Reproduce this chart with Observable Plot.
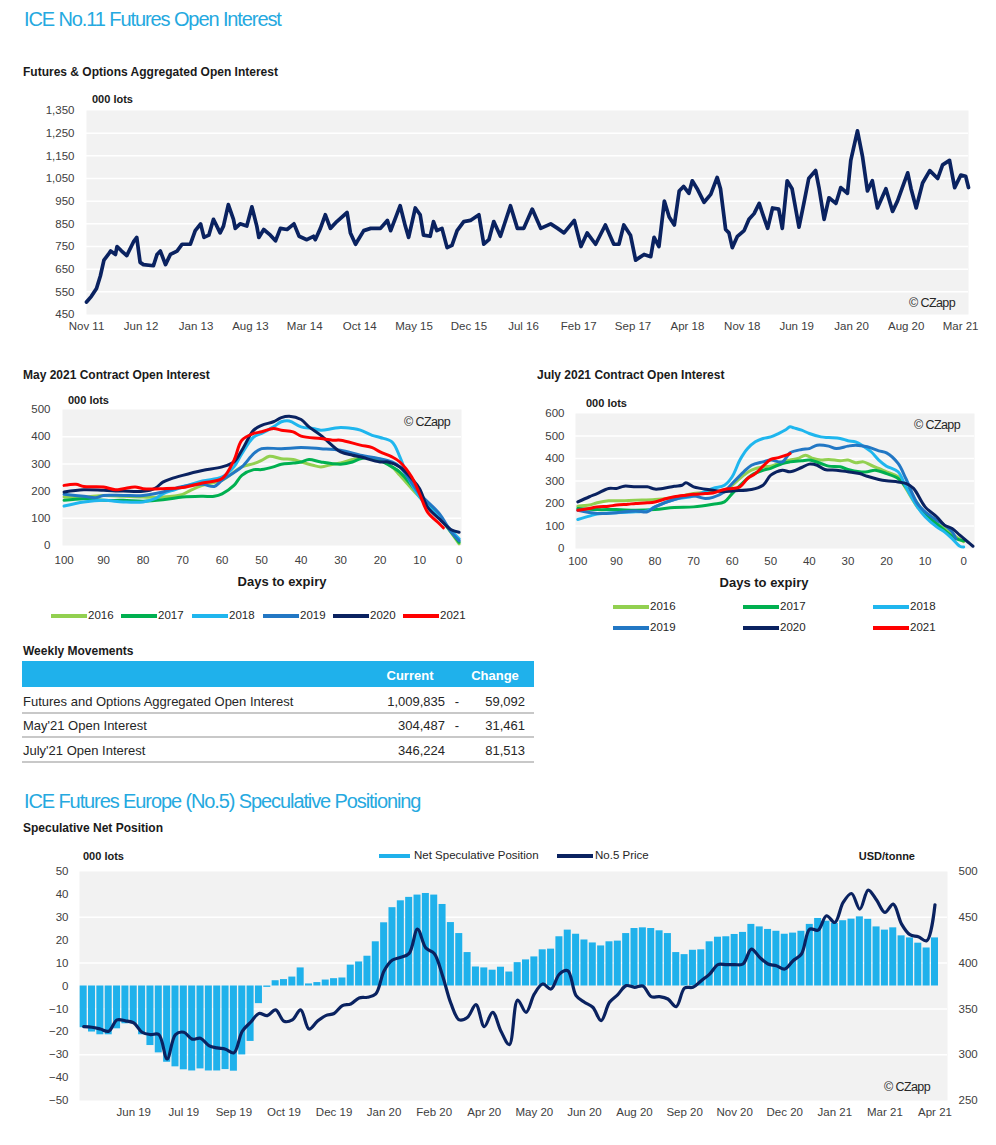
<!DOCTYPE html>
<html><head><meta charset="utf-8">
<script src="https://cdn.jsdelivr.net/npm/d3@7"></script>
<script src="https://cdn.jsdelivr.net/npm/@observablehq/plot@0.6"></script>
<style>
body{margin:0;background:#fff;font-family:"Liberation Sans",Arial,sans-serif;}
#root{position:relative;width:996px;height:1145px;overflow:hidden;background:#fff;}
.t{position:absolute;white-space:nowrap;line-height:1;}
svg{position:absolute;overflow:visible;}
</style></head>
<body><div id="root"></div>
<script>
// ---------- DATA ----------
const oiDates = ["2011-11-01","2011-11-20","2011-12-10","2011-12-25","2012-01-08","2012-01-25","2012-02-03","2012-02-22","2012-02-28","2012-03-17","2012-04-06","2012-05-02","2012-05-15","2012-05-28","2012-06-10","2012-07-19","2012-08-02","2012-08-15","2012-09-04","2012-09-23","2012-10-19","2012-11-08","2012-12-10","2012-12-29","2013-01-19","2013-02-01","2013-02-20","2013-03-10","2013-04-05","2013-04-18","2013-05-07","2013-05-27","2013-06-03","2013-06-22","2013-07-18","2013-08-07","2013-08-26","2013-09-03","2013-09-22","2013-10-18","2013-11-07","2013-11-26","2013-12-22","2014-01-18","2014-02-07","2014-03-09","2014-04-04","2014-04-11","2014-05-01","2014-05-20","2014-06-09","2014-07-04","2014-08-13","2014-08-26","2014-09-15","2014-10-17","2014-11-13","2014-12-21","2015-01-17","2015-01-30","2015-03-08","2015-03-28","2015-04-10","2015-05-06","2015-05-25","2015-06-07","2015-07-03","2015-07-16","2015-07-29","2015-08-18","2015-09-07","2015-09-26","2015-10-16","2015-11-11","2015-12-07","2016-01-09","2016-01-28","2016-02-17","2016-03-07","2016-04-02","2016-05-11","2016-06-07","2016-07-02","2016-08-04","2016-09-06","2016-10-15","2016-11-11","2016-12-06","2017-01-15","2017-02-10","2017-03-06","2017-04-08","2017-05-16","2017-06-18","2017-07-08","2017-07-27","2017-08-22","2017-09-11","2017-10-14","2017-11-09","2017-11-22","2017-12-11","2018-01-01","2018-01-20","2018-02-09","2018-02-28","2018-03-17","2018-04-07","2018-04-20","2018-05-09","2018-06-05","2018-07-01","2018-07-26","2018-08-08","2018-08-28","2018-09-10","2018-09-23","2018-10-13","2018-11-08","2018-11-27","2018-12-17","2019-01-06","2019-01-19","2019-02-08","2019-02-27","2019-03-23","2019-04-06","2019-04-25","2019-05-14","2019-06-10","2019-06-29","2019-07-18","2019-08-14","2019-08-27","2019-09-16","2019-10-05","2019-11-01","2019-11-20","2019-12-16","2019-12-29","2020-01-24","2020-02-13","2020-03-03","2020-03-22","2020-04-11","2020-05-14","2020-06-09","2020-06-28","2020-07-17","2020-08-07","2020-08-20","2020-09-09","2020-10-04","2020-11-01","2020-12-02","2020-12-21","2021-01-17","2021-02-06","2021-03-02","2021-03-21","2021-04-01"];
const oiValues = [505,530,565,620,690,715,730,715,750,730,710,770,790,680,670,665,715,730,670,715,730,760,760,820,850,790,800,870,810,840,935,870,830,850,840,925,840,790,825,800,775,830,825,850,795,780,795,780,830,890,830,860,900,810,760,820,830,830,865,820,930,840,790,920,890,800,795,860,820,830,745,755,820,860,865,890,760,780,860,795,930,830,830,915,830,850,830,810,865,750,810,760,845,760,760,845,800,690,715,705,790,750,950,880,845,995,1015,985,1040,1005,945,980,1055,1005,825,810,745,795,820,870,895,940,895,830,920,915,830,1040,1005,835,940,1050,1085,1010,870,965,940,1010,985,1130,1260,1145,995,1040,920,1005,905,950,1010,1075,1005,920,1030,1085,1050,1110,1130,1010,1065,1060,1010];
const oiTickDates = ["2011-11-01","2012-06-01","2013-01-01","2013-08-01","2014-03-01","2014-10-01","2015-05-01","2015-12-01","2016-07-01","2017-02-01","2017-09-01","2018-04-01","2018-11-01","2019-06-01","2020-01-01","2020-08-01","2021-03-01"];
const oiTickLabels = ["Nov 11","Jun 12","Jan 13","Aug 13","Mar 14","Oct 14","May 15","Dec 15","Jul 16","Feb 17","Sep 17","Apr 18","Nov 18","Jun 19","Jan 20","Aug 20","Mar 21"];

const years = ["2016","2017","2018","2019","2020","2021"];
const yearColors = ["#92d050","#00b050","#1fb6ee","#2277c4","#0a2260","#ff0000"];

// May 2021 contract: [days to expiry, 000 lots]
const may2016 = [[100,178],[95,178],[90,184],[85,181],[80,178],[75,178],[70,188],[68,203],[65,221],[60,240],[55,289],[52,301],[50,313],[48,328],[45,319],[42,316],[40,307],[37,295],[35,289],[32,299],[30,303],[27,316],[25,323],[22,319],[20,313],[17,289],[15,258],[12,209],[10,178],[5,104],[0,6]];
const may2017 = [[100,166],[95,172],[90,166],[85,166],[80,163],[75,168],[70,178],[65,181],[62,181],[60,190],[57,221],[55,258],[52,279],[50,279],[47,289],[45,299],[42,303],[40,307],[38,316],[35,307],[30,299],[27,307],[25,319],[22,323],[20,313],[17,289],[15,270],[10,184],[5,104],[0,12]];
const may2018 = [[100,145],[95,160],[90,166],[85,160],[80,160],[77,172],[75,190],[72,205],[70,215],[65,237],[60,252],[57,289],[55,338],[52,399],[50,412],[47,436],[45,455],[43,458],[40,436],[37,430],[35,424],[32,430],[30,434],[27,430],[25,424],[22,405],[20,397],[17,381],[15,326],[13,252],[10,178],[5,104],[2,55],[0,25]];
const may2019 = [[100,188],[95,181],[92,176],[90,184],[85,184],[80,184],[75,197],[70,217],[65,225],[62,217],[60,240],[55,289],[52,338],[50,356],[45,356],[40,360],[35,356],[30,350],[25,332],[20,319],[17,307],[15,289],[10,190],[5,117],[2,49],[0,18]];
const may2020 = [[100,197],[95,205],[90,203],[85,200],[80,199],[77,210],[75,233],[73,245],[70,258],[65,276],[60,289],[57,307],[55,350],[52,424],[50,442],[47,455],[45,470],[43,475],[40,463],[38,436],[35,405],[30,344],[27,332],[25,326],[20,307],[18,307],[15,289],[12,246],[10,209],[8,141],[5,98],[2,58],[0,49]];
const may2021 = [[100,221],[97,225],[95,217],[90,215],[87,205],[85,209],[82,215],[80,209],[75,209],[70,213],[65,230],[60,246],[57,313],[55,387],[52,412],[50,418],[47,430],[45,424],[42,418],[40,402],[35,393],[32,387],[30,387],[25,369],[22,360],[20,344],[17,326],[15,307],[12,252],[10,190],[8,123],[5,80],[4,65]];

// July 2021 contract
const jul2016 = [[100,188],[97,193],[95,203],[92,212],[90,212],[85,215],[80,218],[75,227],[70,244],[65,252],[62,259],[60,281],[57,326],[55,348],[52,363],[50,366],[47,385],[45,393],[43,400],[41,415],[39,400],[37,393],[35,396],[32,390],[30,393],[28,381],[26,385],[24,370],[22,356],[20,341],[17,319],[15,267],[12,185],[10,148],[5,89],[2,52],[0,30]];
const jul2017 = [[100,178],[95,173],[90,173],[85,170],[80,173],[75,182],[70,185],[65,197],[62,207],[60,244],[57,296],[55,326],[52,348],[50,356],[47,378],[45,385],[42,390],[40,393],[37,378],[35,366],[32,363],[30,351],[27,341],[25,341],[23,348],[20,333],[17,311],[15,274],[12,200],[10,156],[5,81],[2,44],[0,34]];
const jul2018 = [[100,129],[97,144],[95,153],[90,159],[85,163],[82,167],[80,185],[75,218],[70,233],[65,267],[62,281],[60,319],[58,393],[56,444],[54,474],[52,489],[50,496],[48,511],[46,529],[45,541],[44,536],[42,526],[40,511],[37,496],[35,493],[32,489],[30,479],[28,474],[26,455],[24,430],[22,393],[20,366],[17,341],[15,274],[12,185],[10,141],[7,96],[5,74],[3,44],[1,10],[0,7]];
const jul2019 = [[100,170],[95,156],[90,159],[85,167],[82,163],[80,185],[75,218],[70,233],[67,222],[65,227],[62,252],[60,289],[57,341],[55,370],[52,385],[50,393],[47,385],[45,425],[42,440],[40,444],[38,459],[35,455],[33,444],[30,455],[28,459],[25,452],[22,434],[20,425],[17,378],[15,311],[12,200],[10,163],[7,126],[5,104],[3,74],[2,44]];
const jul2020 = [[100,207],[97,230],[95,244],[92,267],[90,267],[88,277],[85,274],[82,274],[80,264],[78,267],[75,277],[73,281],[72,292],[70,274],[65,259],[62,252],[60,256],[55,262],[52,281],[50,326],[47,348],[45,341],[42,360],[40,375],[38,370],[36,351],[33,348],[30,341],[27,333],[25,321],[22,307],[20,301],[17,296],[15,289],[13,267],[10,185],[7,141],[5,104],[3,89],[1,59],[-1,30],[-2.4,10]];
const jul2021 = [[100,170],[97,178],[95,185],[92,188],[90,193],[87,197],[85,200],[82,203],[80,207],[77,222],[75,230],[72,237],[70,241],[67,244],[65,247],[62,262],[60,267],[58,274],[56,311],[54,333],[52,366],[50,396],[48,404],[46,415],[45,422]];

// Weekly movements table
const tableRows = ["Futures and Options Aggregated Open Interest","May'21 Open Interest","July'21 Open Interest"];
const tableCurrent = [1009835, 304487, 346224];
const tableChange = [-59092, -31461, 81513];

// Speculative net position (000 lots), weekly
const netSpec = [-18.2,-20.1,-21.3,-21.3,-18.7,-16.5,-16.5,-21.3,-26,-29.2,-33.3,-35.3,-36.6,-37.1,-36.2,-37.1,-37.1,-36.5,-37.2,-30.1,-24.2,-7.7,-0.6,2.3,2.8,3.9,7.9,0.9,1.5,2.6,3.2,3.5,9.1,10.5,13,19.3,27.6,34.2,37.2,38.7,39.7,40.4,39.7,35.6,27.7,22.9,14.6,8.3,7.9,6.9,8.2,6.1,10.2,11.4,12.7,15.8,16.1,21.5,24.4,22.6,20.1,18.8,17.5,19.3,19.6,22.9,25.1,25.4,25.1,24.1,22.9,14.6,13.7,15.6,15.8,19.3,21.3,21.5,22.5,23.4,26.9,25.8,24.7,23.9,22.6,23.1,23.9,26.9,29.5,28.3,27.3,28.5,29.2,30.2,29.1,25.8,24.4,25.4,21.9,21,18.7,16.6,21];
// No.5 price (USD/tonne), weekly
const no5Price = [330.7,330,328,325.6,338,337,334.7,324.5,322,322,295.4,322,324.5,317,318,310,307.4,306,302,325.6,335.4,345,342.7,349,336.5,338,349,328,336.5,342.7,345,353.6,355.4,362,362.7,366.3,391.7,403.4,406.3,410.6,437,416.4,410.6,386.3,356,338,340.9,354.7,330.7,346.3,325.6,311,359.7,346.3,366.3,377.2,371.7,388,391.7,364.5,357.2,351.8,337.2,357.2,365.6,375.4,373.6,375,363.4,363.4,360.8,352.5,372.8,373.6,380.8,388,398.3,398.3,398.3,399,415.3,406.3,399,397.2,393.5,402.6,409.9,437.1,436,451.7,444.4,466.2,476,459,479.7,468.8,455.3,464.4,442.6,431,428.8,424.4,463.7];
const specTickIndex = [6,12,18,24,30,36,42,48,54,60,66,72,78,84,90,96,102];
const specTickLabels = ["Jun 19","Jul 19","Sep 19","Oct 19","Dec 19","Jan 20","Feb 20","Apr 20","May 20","Jun 20","Aug 20","Sep 20","Nov 20","Dec 20","Jan 21","Mar 21","Apr 21"];

// ---------- HELPERS ----------
const root = document.getElementById("root");
const FONT = "'Liberation Sans', Arial, sans-serif";
const BLUE_T = "#25a9e0";
const NAVY = "#0a2260";
const GRAY_BG = "#f2f2f2";
function T(x, y, s, st = {}, anchor = "start") {
  const d = document.createElement("div");
  d.className = "t";
  d.textContent = s;
  Object.assign(d.style, {fontSize: "12px", color: "#262626"}, st);
  d.style.left = x + "px"; d.style.top = y + "px";
  const tx = anchor === "end" ? "-100%" : anchor === "middle" ? "-50%" : "0";
  d.style.transform = `translate(${tx},-50%)`;
  root.appendChild(d);
  return d;
}
function box(x, y, w, h, bg) {
  const d = document.createElement("div");
  Object.assign(d.style, {position: "absolute", left: x + "px", top: y + "px", width: w + "px", height: h + "px", background: bg});
  root.appendChild(d);
}
function place(svg, left, top) {
  svg.style.left = left + "px"; svg.style.top = top + "px";
  root.appendChild(svg);
}
const axisStyle = {fontFamily: FONT, fontSize: "11.5px", color: "#404040", background: "transparent", overflow: "visible"};
const H1 = {fontSize: "20px", color: BLUE_T, letterSpacing: "-1.1px"};
const H2 = {fontSize: "12px", fontWeight: "bold", color: "#1a1a1a"};
const CZ = {fontSize: "12.5px", color: "#262626", letterSpacing: "-0.6px"};

// ---------- HEADERS ----------
T(24, 19, "ICE No.11 Futures Open Interest", H1);
T(23, 72, "Futures & Options Aggregated Open Interest", H2);
T(92, 99, "000 lots", {fontSize: "11px", fontWeight: "bold", color: "#1a1a1a"});

// ---------- CHART 1 ----------
{
  const data = oiDates.map((d, i) => ({date: new Date(d), value: oiValues[i]}));
  const tickD = oiTickDates.map(d => new Date(d));
  const lab = new Map(tickD.map((d, i) => [+d, oiTickLabels[i]]));
  const svg = Plot.plot({
    width: 996, height: 245, marginLeft: 86, marginRight: 28, marginTop: 15, marginBottom: 26,
    style: axisStyle,
    x: {type: "utc", domain: [new Date("2011-11-01"), new Date("2021-04-01")]},
    y: {domain: [450, 1350]},
    marks: [
      Plot.frame({fill: GRAY_BG, stroke: null}),
      Plot.ruleY(d3.range(550, 1350, 100), {stroke: "white", strokeWidth: 1.5}),
      Plot.axisY({ticks: d3.range(450, 1351, 100), tickSize: 0, tickPadding: 12, tickFormat: d3.format(","), label: null}),
      Plot.axisX({ticks: tickD, tickSize: 0, tickPadding: 7, tickFormat: d => lab.get(+d), label: null}),
      Plot.line(data, {x: "date", y: "value", stroke: NAVY, strokeWidth: 3.7, strokeLinejoin: "round"})
    ]
  });
  place(svg, 0, 95);
  T(955, 303, "© CZapp", CZ, "end");
}

// ---------- SMALL CHARTS ----------
function seasonal(series, opts) {
  const data = [];
  series.forEach((s, k) => s.forEach(([d, v]) => data.push({year: years[k], day: d, value: v})));
  return Plot.plot({
    width: opts.width, height: 190, marginLeft: opts.ml, marginRight: opts.mr, marginTop: opts.mt, marginBottom: opts.mb,
    style: axisStyle,
    x: {domain: opts.xdomain},
    y: {domain: [0, opts.ymax]},
    color: {domain: years, range: yearColors},
    marks: [
      Plot.frame({fill: GRAY_BG, stroke: null}),
      Plot.ruleY(d3.range(100, opts.ymax, 100), {stroke: "white", strokeWidth: 1.5}),
      Plot.axisY({ticks: d3.range(0, opts.ymax + 1, 100), tickSize: 0, tickPadding: opts.typ, label: null}),
      Plot.axisX({ticks: d3.range(0, 101, 10), tickSize: 0, tickPadding: opts.txp, label: null}),
      Plot.line(data, {x: "day", y: "value", z: "year", stroke: "year", strokeWidth: 3, curve: "catmull-rom"})
    ]
  });
}
T(23, 375, "May 2021 Contract Open Interest", H2);
place(seasonal([may2016, may2017, may2018, may2019, may2020, may2021],
  {width: 480, ml: 62, mr: 19, mt: 29, mb: 25, xdomain: [100.4, -0.6], ymax: 500, typ: 12, txp: 10}), 0, 380);
T(68, 400, "000 lots", {fontSize: "11px", fontWeight: "bold", color: "#1a1a1a"});
T(450, 422, "© CZapp", CZ, "end");
T(282, 581, "Days to expiry", {fontSize: "13px", fontWeight: "bold", color: "#1a1a1a"}, "middle");

T(537, 375, "July 2021 Contract Open Interest", H2);
place(seasonal([jul2016, jul2017, jul2018, jul2019, jul2020, jul2021],
  {width: 496, ml: 75, mr: 22, mt: 33, mb: 22, xdomain: [100.6, -2.8], ymax: 600, typ: 11, txp: 8}), 500, 380);
T(586, 403, "000 lots", {fontSize: "11px", fontWeight: "bold", color: "#1a1a1a"});
T(960, 425, "© CZapp", CZ, "end");
T(764, 582, "Days to expiry", {fontSize: "13px", fontWeight: "bold", color: "#1a1a1a"}, "middle");

// legends
function swatch(x, y, color, label) {
  box(x, y - 2, 36, 4, color);
  T(x + 37, y, label, {fontSize: "11.5px", color: "#262626"});
}
const mayLegX = [51, 121, 192, 263, 333, 403];
years.forEach((yr, i) => swatch(mayLegX[i], 616, yearColors[i], yr));
const julLegX = [613, 743, 873];
years.forEach((yr, i) => swatch(julLegX[i % 3], i < 3 ? 607 : 628, yearColors[i], yr));

// ---------- TABLE ----------
T(23, 651, "Weekly Movements", H2);
box(22, 661, 512, 26, "#1fb1eb");
T(410, 675, "Current", {fontSize: "13px", fontWeight: "bold", color: "#fff"}, "middle");
T(495, 675, "Change", {fontSize: "13px", fontWeight: "bold", color: "#fff"}, "middle");
const rowY = [701, 725, 750];
const fmt = d3.format(",");
tableRows.forEach((r, i) => {
  const st = {fontSize: "13px", color: "#262626"};
  T(23, rowY[i], r, st);
  T(445, rowY[i], fmt(tableCurrent[i]), st, "end");
  if (tableChange[i] < 0) T(457, rowY[i], "-", st, "middle");
  T(525, rowY[i], fmt(Math.abs(tableChange[i])), st, "end");
  box(22, rowY[i] + 11, 512, 1.5, "#c8c8c8");
});

// ---------- SPECULATIVE POSITIONING ----------
T(24, 801, "ICE Futures Europe (No.5) Speculative Positioning", H1);
T(23, 828, "Speculative Net Position", H2);
{
  const idx = d3.range(104);
  const bars = netSpec.map((v, i) => ({i, v}));
  const line = no5Price.map((p, i) => ({i, p}));
  const toLeft = p => (p - 375) / 2.5;
  const svg = Plot.plot({
    width: 996, height: 280, marginLeft: 79, marginRight: 49, marginTop: 26, marginBottom: 25,
    style: axisStyle,
    x: {type: "band", domain: idx, paddingInner: 0.16, paddingOuter: 0.08},
    y: {domain: [-50, 50]},
    marks: [
      Plot.frame({fill: GRAY_BG, stroke: null}),
      Plot.ruleY([-30, -10, 10, 30], {stroke: "white", strokeWidth: 1.5}),
      Plot.barY(bars, {x: "i", y: "v", fill: "#1fb1eb"}),
      Plot.line(line, {x: "i", y: d => toLeft(d.p), stroke: NAVY, strokeWidth: 3.2, curve: "catmull-rom"}),
      Plot.axisY({ticks: d3.range(-50, 51, 10), anchor: "left", tickSize: 0, tickPadding: 11, label: null}),
      Plot.axisY({ticks: [-50, -30, -10, 10, 30, 50], anchor: "right", tickSize: 0, tickPadding: 11, tickFormat: d => String(375 + 2.5 * d), label: null}),
      Plot.axisX({ticks: specTickIndex, tickSize: 0, tickPadding: 7, tickFormat: i => specTickLabels[specTickIndex.indexOf(i)], label: null})
    ]
  });
  place(svg, 0, 845);
  T(83, 856, "000 lots", {fontSize: "11px", fontWeight: "bold", color: "#1a1a1a"});
  T(915, 856, "USD/tonne", {fontSize: "11px", fontWeight: "bold", color: "#1a1a1a"}, "end");
  box(379, 854, 31, 4, "#1fb1eb");
  T(414, 856, "Net Speculative Position", {fontSize: "11.5px", color: "#262626"});
  box(557, 854, 36, 4, NAVY);
  T(595, 856, "No.5 Price", {fontSize: "11.5px", color: "#262626"});
  T(930, 1087, "© CZapp", CZ, "end");
}
</script>
</body></html>
